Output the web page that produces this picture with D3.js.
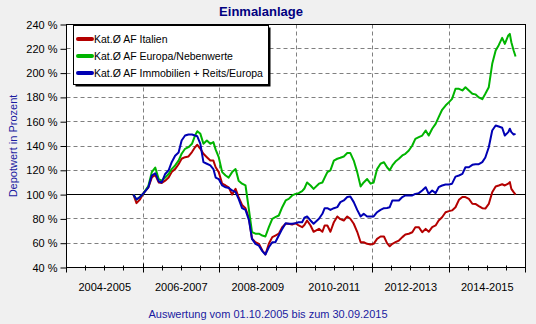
<!DOCTYPE html>
<html>
<head>
<meta charset="utf-8">
<script src="https://cdn.jsdelivr.net/npm/d3@7/dist/d3.min.js"></script>
<style>
  html, body { margin: 0; padding: 0; background: #f0f0f0; }
  svg { display: block; font-family: "Liberation Sans", Arial, sans-serif; }
</style>
</head>
<body>
<svg id="chart" width="536" height="324"></svg>
<script>
// Decimal-year sample dates shared by all three series
const dates = [2005.75, 2005.83, 2005.92, 2006.01, 2006.14, 2006.23, 2006.32, 2006.41, 2006.49, 2006.58,
  2006.67, 2006.75, 2006.84, 2006.93, 2007.01, 2007.10, 2007.19, 2007.28, 2007.36, 2007.42,
  2007.50, 2007.58, 2007.67, 2007.76, 2007.84, 2007.90, 2007.98, 2008.07, 2008.16, 2008.24,
  2008.33, 2008.42, 2008.50, 2008.59, 2008.68, 2008.77, 2008.85, 2008.94, 2009.03, 2009.12,
  2009.20, 2009.29, 2009.38, 2009.46, 2009.55, 2009.64, 2009.73, 2009.81, 2009.90, 2009.99,
  2010.07, 2010.16, 2010.22, 2010.29, 2010.38, 2010.46, 2010.60, 2010.69, 2010.75, 2010.82,
  2010.90, 2010.99, 2011.08, 2011.16, 2011.25, 2011.34, 2011.42, 2011.51, 2011.60, 2011.69,
  2011.77, 2011.86, 2011.95, 2012.03, 2012.12, 2012.21, 2012.30, 2012.38, 2012.45, 2012.52,
  2012.60, 2012.69, 2012.78, 2012.86, 2012.95, 2013.04, 2013.12, 2013.21, 2013.30, 2013.39,
  2013.47, 2013.56, 2013.65, 2013.73, 2013.82, 2013.91, 2014.00, 2014.08, 2014.17, 2014.26,
  2014.35, 2014.43, 2014.52, 2014.61, 2014.69, 2014.78, 2014.87, 2014.95, 2015.04, 2015.13,
  2015.22, 2015.30, 2015.39, 2015.46, 2015.55, 2015.59, 2015.63, 2015.69, 2015.74];

// Depotwert in % per fund category
const italien = [100, 93, 96, 101, 106, 114, 116.3, 110, 109.5, 111.5,
  114, 118.5, 121, 125, 129.5, 130.8, 131.4, 135, 139, 141,
  137.7, 133.6, 130.8, 128, 128, 122.5, 118.5, 109, 107.5, 106,
  100, 104.7, 98, 91.5, 88.8, 80.5, 63.6, 60.8, 59.5, 54,
  50.7, 59.5, 65, 66.3, 67.8, 73.2, 76, 76, 75.3, 76.5,
  74.6, 73.2, 75, 78.7, 74.6, 69.4, 71.8, 69.4, 74.6, 74.6,
  69.4, 77.3, 82, 79.8, 78.7, 82, 80.1, 76, 69.4, 60.8,
  60.8, 59.5, 58.9, 59.5, 63.6, 65.5, 65.5, 60, 57.5, 59.5,
  60.8, 62.2, 65, 67.2, 67.8, 69, 73.2, 73.2, 69, 71.8,
  69.4, 73.2, 74.6, 78.7, 81.4, 85.5, 86.4, 87, 89.6, 95.7,
  98, 98, 96.5, 92.5, 92.3, 90.5, 88.8, 88.5, 92.3, 102,
  106.7, 107.5, 108.5, 107.5, 109, 110.3, 104.7, 102, 100];

const europa = [100, 96, 98, 101, 107, 118.5, 122.3, 112.8, 111.5, 114,
  117, 121, 124, 128, 133.6, 137.7, 139, 141.8, 148.6, 152.2,
  150, 141.8, 144.5, 141.8, 143.2, 137, 130.8, 118.5, 115.7, 114,
  118.5, 121, 111.5, 109, 107.5, 87.4, 69.2, 67.8, 67.8, 66.3,
  65.5, 73.2, 80.1, 81.4, 82.8, 89.6, 95.2, 96.5, 99.3, 100.6,
  101.2, 102.8, 105, 110, 107.5, 104.7, 109, 110, 114, 118.5,
  120, 128, 129.5, 130.3, 131.4, 134.2, 134.2, 128, 118.5, 106.7,
  110, 112.8, 109, 110, 121, 125.4, 126.7, 122.5, 120, 124,
  127.2, 129.5, 132.2, 133.6, 136.3, 140.4, 145.9, 147.3, 148.6, 152.8,
  148.6, 154.2, 158.2, 163.7, 169.8, 173.3, 176.1, 178.8, 187.1, 187.1,
  185.7, 188.4, 185.7, 183, 182.5, 180, 178.5, 183, 188.4, 207.6,
  218.6, 223, 229, 224, 231, 232.3, 225.4, 218.6, 213.7];

const immobilien = [100, 96, 98, 101, 106, 115.7, 117.6, 110.8, 110, 117,
  120, 126.7, 132, 134.7, 144.5, 148.6, 149.5, 149.5, 148.6, 148,
  141.8, 126.7, 125.4, 124, 121, 114, 112.8, 107.5, 106, 105.5,
  103.4, 102, 96.5, 88.8, 87.4, 79, 63.6, 59.5, 58, 53.5,
  50.7, 56.7, 60.8, 60.8, 66.3, 71.8, 76.5, 76, 76, 76.5,
  77.3, 77.3, 81, 82, 78.7, 76, 80.1, 84.2, 88.8, 88.8,
  87.4, 88.8, 89.7, 93.8, 95.2, 98, 98.5, 93.8, 87.4, 82,
  84.2, 82, 82, 82, 85.5, 87.4, 88.8, 89, 89.6, 95.2,
  95.2, 95.2, 98, 99.3, 99.3, 99.3, 100.6, 101.2, 103.4, 106.1,
  100.6, 103.4, 101.2, 106.1, 107.5, 108.3, 108.3, 109, 114.8, 115.7,
  117, 122.5, 122.5, 124.5, 125, 125, 126.7, 130.5, 139, 152.8,
  156.9, 156, 155, 148.6, 151.4, 154.2, 151.4, 149.5, 150];

const seriesNames = ["Kat.\u00D8 AF Italien", "Kat.\u00D8 AF Europa/Nebenwerte", "Kat.\u00D8 AF Immobilien + Reits/Europa"];
const seriesColors = ["#b40000", "#00b400", "#0000b4"];
const yTicks = [40, 60, 80, 100, 120, 140, 160, 180, 200, 220, 240];
const periodLabels = ["2004-2005", "2006-2007", "2008-2009", "2010-2011", "2012-2013", "2014-2015"];
const periodStarts = [2004, 2006, 2008, 2010, 2012, 2014];

const svg = d3.select("#chart");
const plotLeft = 66.5, plotRight = 525.5, plotTop = 24.5, plotBottom = 267.5;

const x = d3.scaleLinear().domain([2004, 2016]).range([plotLeft, plotRight]);
const y = d3.scaleLinear().domain([40, 240]).range([plotBottom, plotTop]);
const px = v => Math.round(v - 0.5) + 0.5;

// Plot background
svg.append("rect").attr("x", plotLeft).attr("y", plotTop)
  .attr("width", plotRight - plotLeft).attr("height", plotBottom - plotTop).attr("fill", "#fff");

// Dashed grid
const grid = svg.append("g").attr("stroke", "#808080").attr("stroke-dasharray", "4,3").attr("stroke-width", 1);
grid.selectAll("line.h").data(yTicks.filter(v => v !== 40 && v !== 240 && v !== 100)).join("line")
  .attr("x1", plotLeft).attr("x2", plotRight)
  .attr("y1", d => px(y(d))).attr("y2", d => px(y(d)));
grid.selectAll("line.v").data(periodStarts.slice(1)).join("line")
  .attr("x1", d => px(x(d))).attr("x2", d => px(x(d)))
  .attr("y1", plotTop).attr("y2", plotBottom);

// 100 % reference line
svg.append("line").attr("x1", plotLeft).attr("x2", plotRight)
  .attr("y1", px(y(100))).attr("y2", px(y(100)))
  .attr("stroke", "#000").attr("stroke-width", 1);

// Series lines
const series = [italien, europa, immobilien];
const line = d3.line().x((d, i) => x(dates[i])).y(d => y(d));
svg.append("g").selectAll("path").data(series).join("path")
  .attr("d", d => line(d))
  .attr("fill", "none")
  .attr("stroke", (d, i) => seriesColors[i])
  .attr("stroke-width", 2)
  .attr("stroke-linejoin", "round");

// Frame
svg.append("rect").attr("x", plotLeft).attr("y", plotTop)
  .attr("width", plotRight - plotLeft).attr("height", plotBottom - plotTop)
  .attr("fill", "none").attr("stroke", "#000").attr("stroke-width", 1);

// Y axis
const yAxis = svg.append("g").attr("transform", `translate(${plotLeft},0)`)
  .call(d3.axisLeft(y).tickValues(yTicks).tickFormat(d => d + " %").tickSize(6).tickPadding(3));
yAxis.select(".domain").remove();
yAxis.selectAll("line").attr("stroke", "#000");
yAxis.selectAll("text").attr("font-size", 11).attr("fill", "#000")
  .attr("font-family", "'Liberation Sans', Arial, sans-serif");

// X axis ticks: major every two years, minor every half year
const majors = d3.range(2004, 2016.01, 2);
const minors = d3.range(2004, 2016.01, 0.5).filter(v => v % 2 !== 0);
svg.append("g").attr("stroke", "#000").selectAll("line").data(majors).join("line")
  .attr("x1", d => px(x(d))).attr("x2", d => px(x(d)))
  .attr("y1", plotBottom - 4).attr("y2", plotBottom + 5);
svg.append("g").attr("stroke", "#000").selectAll("line").data(minors).join("line")
  .attr("x1", d => px(x(d))).attr("x2", d => px(x(d)))
  .attr("y1", plotBottom - 2).attr("y2", plotBottom + 3);

svg.append("g").selectAll("text").data(periodLabels).join("text")
  .attr("x", (d, i) => x(periodStarts[i] + 1))
  .attr("y", 291)
  .attr("text-anchor", "middle")
  .attr("font-size", 11)
  .attr("fill", "#000")
  .text(d => d);

// Titles
svg.append("text").attr("x", 261).attr("y", 16).attr("text-anchor", "middle")
  .attr("font-size", 13).attr("font-weight", "bold").attr("fill", "#000080")
  .text("Einmalanlage");

svg.append("text").attr("x", 268).attr("y", 318).attr("text-anchor", "middle")
  .attr("font-size", 11).attr("fill", "#1a1aa0")
  .text("Auswertung vom 01.10.2005 bis zum 30.09.2015");

svg.append("text").attr("transform", "translate(17,146) rotate(-90)")
  .attr("text-anchor", "middle").attr("font-size", 11).attr("fill", "#1a1aa0")
  .text("Depotwert in Prozent");

// Legend
const lg = svg.append("g");
lg.append("rect").attr("x", 75.5).attr("y", 27.5).attr("width", 195).attr("height", 59).attr("fill", "#000");
lg.append("rect").attr("x", 73.5).attr("y", 25.5).attr("width", 195).attr("height", 59)
  .attr("fill", "#fff").attr("stroke", "#000");
const rows = lg.selectAll("g.row").data(seriesNames).join("g")
  .attr("transform", (d, i) => `translate(0,${[39, 56, 73][i]})`);
rows.append("line").attr("x1", 78).attr("x2", 92).attr("y1", 0).attr("y2", 0)
  .attr("stroke", (d, i) => seriesColors[i]).attr("stroke-width", 4).attr("stroke-linecap", "round");
rows.append("text").attr("x", 94).attr("y", 4).attr("font-size", 10.5).attr("fill", "#000")
  .text(d => d);
</script>
</body>
</html>
